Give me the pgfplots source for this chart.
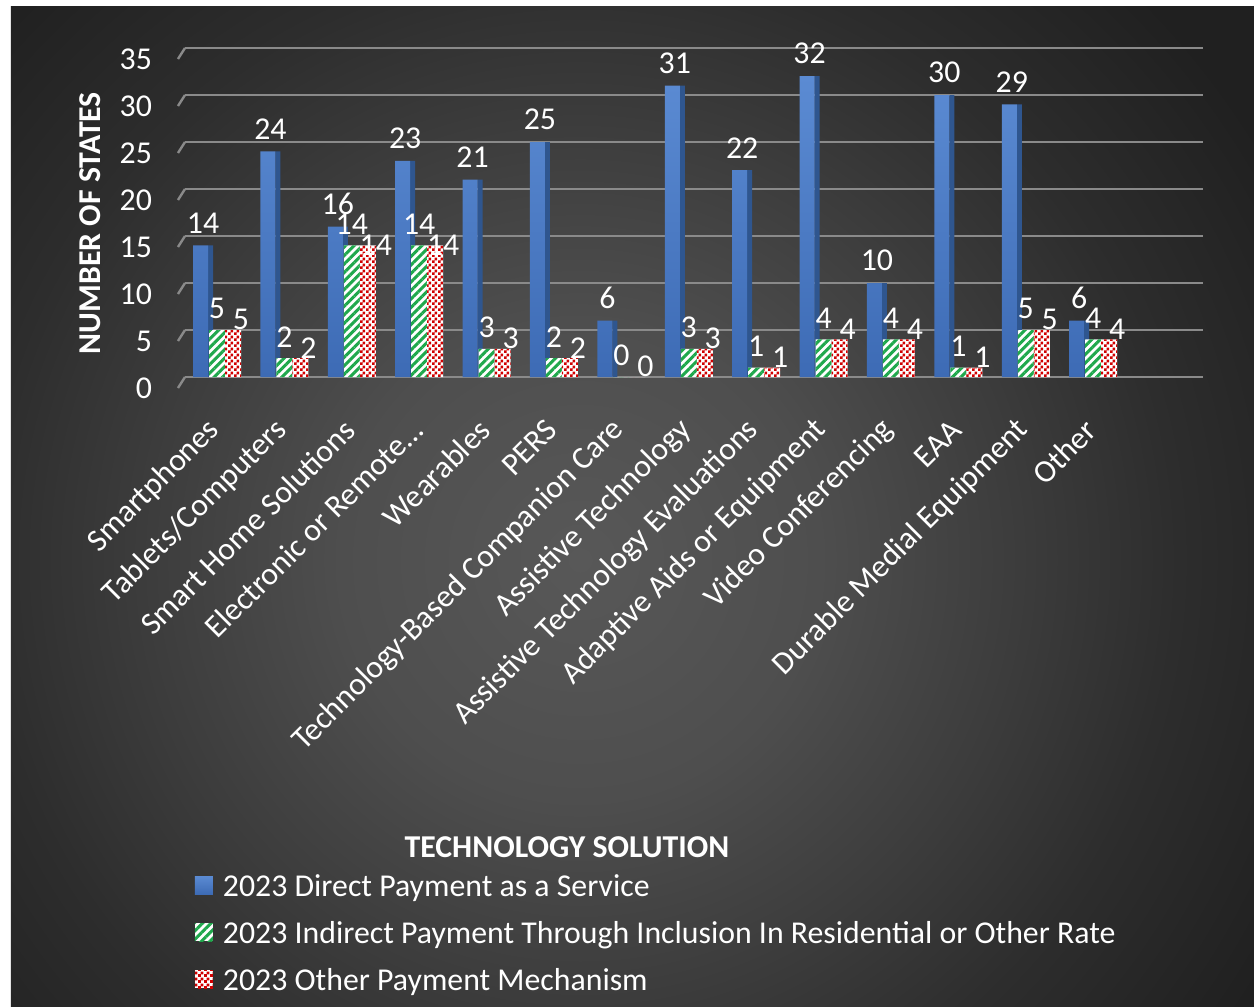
\documentclass[border=0pt]{standalone}
\usepackage{fontspec}
\setmainfont{Carlito}
\usepackage{pgfplots}
\usepackage{pgfplotstable}
\pgfplotsset{compat=1.18}
\usetikzlibrary{patterns,patterns.meta}

\definecolor{bg0}{HTML}{585858}
\definecolor{bg1}{HTML}{4E4E4E}
\definecolor{bg2}{HTML}{3C3C3C}
\definecolor{bg3}{HTML}{2D2D2D}
\definecolor{bg4}{HTML}{202020}
\definecolor{gridgray}{HTML}{8A8A8A}
\definecolor{blueT}{HTML}{5B8BD3}
\definecolor{blueB}{HTML}{3D6BB5}
\definecolor{blueS}{HTML}{2F568F}
\definecolor{stripeG}{HTML}{1FA84C}
\definecolor{checkR}{HTML}{D00000}

\pgfdeclareradialshading{bgshade}{\pgfpoint{0bp}{0bp}}{color(0bp)=(bg0); color(6.8bp)=(bg1); color(12.5bp)=(bg2); color(17bp)=(bg3); color(22.7bp)=(bg4); color(50bp)=(bg4)}

% small red/white checks
\pgfdeclarepatternformonly{smallchecks}{\pgfpointorigin}{\pgfqpoint{3pt}{3pt}}{\pgfqpoint{3pt}{3pt}}{%
  \pgfpathrectangle{\pgfpointorigin}{\pgfqpoint{1.55pt}{1.55pt}}%
  \pgfpathrectangle{\pgfqpoint{1.5pt}{1.5pt}}{\pgfqpoint{1.55pt}{1.55pt}}%
  \pgfusepath{fill}}

\newcommand\chartfont{\fontsize{15.9}{18.5}\selectfont}

% direct / indirect / other, per technology
\pgfplotstableread{
cat direct indirect other
0  14 5  5
1  24 2  2
2  16 14 14
3  23 14 14
4  21 3  3
5  25 2  2
6  6  0  0
7  31 3  3
8  22 1  1
9  32 4  4
10 10 4  4
11 30 1  1
12 29 5  5
13 6  4  4
}\techdata

\begin{document}
\begin{tikzpicture}
\path[use as bounding box] (-92.5pt,-315pt) rectangle (534.5pt,188.5pt);
\fill[white] (-92.5pt,-315pt) rectangle (534.5pt,188.5pt);
\fill[bg4] (-87pt,-315pt) rectangle (534.5pt,185pt);
\begin{scope}
  \clip (-87pt,-315pt) rectangle (534.5pt,185pt);
  \shade[shading=bgshade] (197.5pt,-91.5pt) circle (440pt);
\end{scope}

\begin{axis}[
    at={(0pt,0pt)}, anchor=south west, scale only axis,
    width=509pt, height=164.5pt,
    xmin=-0.475, xmax=14.63, ymin=0, ymax=35,
    clip=false,
    axis line style={draw=none},
    major tick length=0pt,
    ytick={0,5,...,35},
    ymajorgrids,
    grid style={draw=gridgray, line width=1.2pt},
    xtick={0,...,13},
    xticklabels={Smartphones, Tablets/Computers, Smart Home Solutions,
      Electronic or Remote…, Wearables, PERS, Technology-Based Companion Care,
      Assistive Technology, Assistive Technology Evaluations,
      Adaptive Aids or Equipment, Video Conferencing, EAA,
      Durable Medial Equipment, Other},
    tick label style={font=\chartfont, text=white},
    xticklabel style={xshift=-1pt, yshift=-24pt, rotate=45, anchor=east, inner sep=0pt},
    yticklabel style={xshift=-13pt, yshift=-5.5pt},
    /pgf/number format/assume math mode=true,
    ylabel={NUMBER OF STATES},
    ylabel style={font=\chartfont\bfseries, text=white,
      at={(axis description cs:-0.0933,0.468)}, anchor=center},
    xlabel={TECHNOLOGY SOLUTION},
    xlabel style={font=\chartfont\bfseries, text=white,
      at={(axis description cs:0.3752,-1.4286)}, anchor=center},
    every node near coord/.append style={font=\chartfont, text=white},
    legend style={at={(axis description cs:0.0098,-1.5077)}, anchor=north west,
      draw=none, fill=none, inner sep=0pt, outer sep=0pt,
      font=\chartfont, text=white,
      nodes={inner sep=0pt, text height=11.5pt, text depth=3.5pt},
      row sep=8.5pt,
      /tikz/every odd column/.append style={column sep=5pt}},
    legend cell align=left,
    legend image code/.code={\path[#1] (0pt,-3pt) rectangle (9pt,6pt);},
]

\addplot[ybar, bar width=2.5pt, bar shift=-3.25pt, fill=blueS, draw=none, forget plot]
  table[x=cat, y=direct] {\techdata};
\addplot[ybar, bar width=7.5pt, bar shift=-8.25pt, draw=none,
    top color=blueT, bottom color=blueB,
    nodes near coords, nodes near coords style={xshift=-7pt, yshift=2.5pt}]
  table[x=cat, y=direct] {\techdata};
\addplot[ybar, bar width=8pt, bar shift=0pt, draw=none, fill=white,
    postaction={pattern={Lines[angle=45,distance=3pt,line width=1.5pt]}, pattern color=stripeG},
    nodes near coords, nodes near coords style={yshift=2pt}]
  table[x=cat, y=indirect] {\techdata};
\addplot[ybar, bar width=8pt, bar shift=8pt, draw=none, fill=white,
    postaction={pattern=smallchecks, pattern color=checkR},
    visualization depends on={y \as \rawy},
    nodes near coords,
    nodes near coords style={xshift=12pt, yshift={\rawy>10 ? -8.5pt : -3.5pt}}]
  table[x=cat, y=other] {\techdata};

\pgfplotsinvokeforeach{0,5,...,35}{
  \draw[gridgray, line width=1.2pt] (axis cs:-0.475,#1) -- ++(-3.5pt,-5.5pt);
}

\legend{2023 Direct Payment as a Service,
  2023 Indirect Payment Through Inclusion In Residential or Other Rate,
  2023 Other Payment Mechanism}
\end{axis}
\end{tikzpicture}
\end{document}
